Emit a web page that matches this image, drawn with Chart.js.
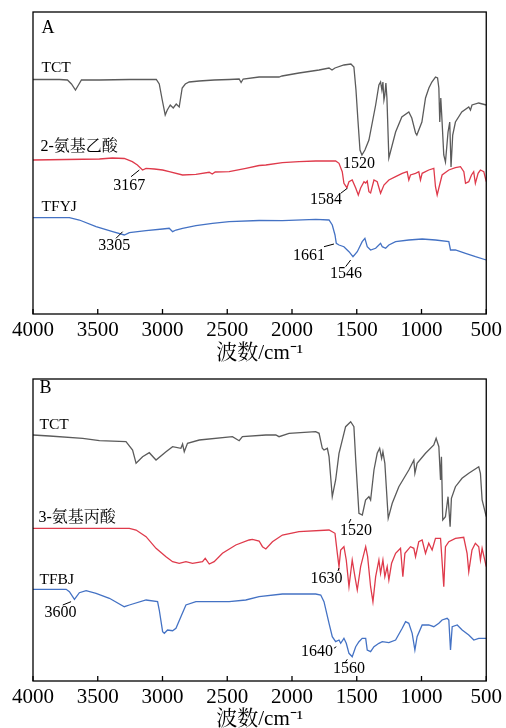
<!DOCTYPE html>
<html>
<head>
<meta charset="utf-8">
<script src="https://cdn.jsdelivr.net/npm/chart.js@4.4.0/dist/chart.umd.min.js"></script>
<style>
  html, body { margin: 0; padding: 0; background: #fff; overflow: hidden; }
  .panel { position: absolute; left: 0; width: 506px; height: 364px; }
  #wrapA { top: 0; }
  #wrapB { top: 366px; }
</style>
</head>
<body>
<div class="panel" id="wrapA"><canvas id="chartA" width="506" height="364"></canvas></div>
<div class="panel" id="wrapB"><canvas id="chartB" width="506" height="364"></canvas></div>
<script>
// x-akse: bølgetal (cm-1), y: forskudt transmittans (vilkårlige enheder)
const xTicks = [4000, 3500, 3000, 2500, 2000, 1500, 1000, 500];

// panel A
const tctA_wn = [4000,3796,3734,3703,3672,3649,3626,3487,3256,3048,3025,3002,2979,2963,2940,2917,2894,2871,2848,2824,2794,2717,2601,2485,2408,2393,2377,2254,2100,2077,1946,1791,1714,1691,1668,1599,1545,1522,1506,1491,1475,1460,1437,1406,1354,1329,1316,1306,1298,1290,1283,1275,1267,1252,1200,1152,1098,1075,1046,1036,997,969,943,920,892,876,866,859,851,841,828,815,795,782,772,759,738,689,635,622,610,558,500];
const tctA_val = [234.5,234.5,234,230,224,229,234,234,234.5,234.5,230,214,199,204,209,206,210,207,226,230,232,233,234,234.5,235,231.5,235,237,237,238,241,244,246,244,246,249,250,247,224,194,164,159,164,174,209,229,232,224,232,214,219,231,216,156,182,197,202,196,181,179,192,216,226,232,237,236,226,192,216,192,159,152,182,192,147,179,192,202,207,204,209,211,209];

const glyA_wn = [4000,3487,3387,3295,3233,3194,3154,3127,3063,2999,2948,2845,2742,2639,2616,2593,2485,2356,2254,2202,2074,1946,1817,1663,1637,1612,1599,1576,1560,1535,1508,1488,1470,1444,1431,1419,1406,1393,1367,1342,1316,1290,1252,1200,1149,1111,1098,1085,1046,1021,1008,995,944,905,892,879,866,841,789,738,699,673,660,635,614,597,584,563,545,519,500];
const glyA_val = [154,155,156,155.5,152.3,149,144,145.7,145,144,142.3,139,139.7,141.7,140,142,142.3,145.7,148.5,149,151.3,152.3,153,153,150.7,142.3,130.7,126.3,132.3,134,126,119,126,132.3,131,133,122.3,121,134,132.3,120.7,129,134,137.3,140.7,142.3,134,139,140.7,142.3,134,140.7,144,145.7,127.3,119,126,139,144,146.3,147.3,142.3,130.7,132.3,139,142.3,130.7,140.7,144,142.3,132.3];

const tfyj_wn = [4000,3719,3642,3513,3385,3295,3256,3127,2999,2948,2922,2896,2845,2742,2614,2485,2254,2074,1817,1714,1689,1668,1658,1637,1599,1560,1529,1496,1458,1437,1419,1393,1354,1316,1303,1277,1252,1200,1098,995,892,789,776,738,660,583,500];
const tfyj_val = [96.3,96.3,94,87.3,82.3,79,81.3,83.3,85,85.7,82.3,84,85.7,88.3,90.7,92.3,93.5,93.3,94.7,94,89,79,70.7,69,67.3,62.3,57.3,62.3,72.3,75.7,67.3,64,65.7,70.7,67.3,65.7,69,72.3,74,75,74,72.3,64,64,60.7,57.3,54];

// panel B
const tctB_wn = [4000,3873,3616,3487,3282,3231,3204,3154,3102,3050,2973,2922,2858,2845,2832,2807,2716,2460,2408,2383,2202,2125,2100,2023,1817,1791,1766,1753,1727,1714,1689,1663,1637,1586,1547,1522,1508,1483,1457,1432,1406,1393,1367,1342,1323,1308,1298,1283,1257,1226,1175,1098,1059,1051,1034,969,905,887,866,853,846,836,815,795,779,769,738,687,635,558,545,532,500];
const tctB_val = [246,245,242.7,240.3,239.3,231,217.7,224.3,228.3,221,229.3,234.3,232.7,237,229.3,237.7,241,244.3,240.3,244.3,246,246,244.3,247.7,249.3,247.7,232.7,231,232.7,224.3,184.3,201,227.7,254.3,259.3,254.3,221,167.7,166,181,184.3,181,211,227.7,232.7,222.7,229.3,217.7,162.7,177.7,194.3,211,221,207.7,217.7,227.7,236,242.7,234.3,201,224.3,161,164.3,184.3,154.3,182.7,194.3,202.7,207.7,214.3,207.7,181,164.3];

const alaB_wn = [4000,3256,3204,3127,3050,2973,2922,2871,2819,2768,2691,2670,2639,2601,2537,2434,2331,2306,2254,2228,2202,2151,2074,1946,1714,1668,1650,1637,1624,1599,1581,1560,1535,1514,1496,1470,1431,1416,1393,1375,1354,1329,1316,1298,1283,1265,1252,1231,1200,1162,1144,1128,1085,1059,1046,1021,995,969,944,918,892,853,828,815,789,738,674,648,635,610,584,558,545,532,500];
const alaB_val = [152.7,152.7,151,144.3,132.7,124.3,119.3,117.7,119.3,117.7,119.3,122.7,117,119.3,127.7,136,141,141.7,140,134.3,132,139.3,146,149.3,151,147.7,127.7,114.3,131,134.3,121,94.3,121,104.3,91,114.3,134.3,124.3,94.3,79.3,104.3,121,107.7,121,104.3,114.3,101,117.7,127.7,132.7,104.3,127.7,134.3,132.7,124.3,139.3,141,127.7,137.7,131,142.7,142.7,94.3,134.3,139.3,142.7,143.7,127.7,109.3,131,137.7,134.3,121,132.7,114.3];

const tfbj_wn = [4000,3744,3719,3680,3642,3590,3513,3410,3295,3256,3127,3038,3025,2999,2986,2961,2922,2896,2858,2819,2742,2485,2357,2254,2074,1817,1778,1753,1714,1689,1663,1637,1624,1599,1581,1560,1535,1508,1483,1458,1431,1419,1393,1367,1329,1303,1252,1200,1149,1123,1098,1072,1051,1034,995,944,905,866,841,802,789,776,763,724,686,635,596,558,500];
const tfbj_val = [91.7,91.7,89.3,81.7,88.3,90.3,87.7,82.7,74.3,76,81,79.3,71,49.3,47.7,51,50.3,52.7,64.3,76,79.3,79.3,81,84.3,87,87,86,79.3,57.7,44.3,39.3,41,37.7,42.7,37.7,27.7,24.3,34.3,39.3,42.7,42.7,31,29.3,34.3,37.7,39.3,38.3,41,52.7,59.3,57.7,47.7,31,44.3,56,56,54.3,57.7,61,62.7,61,31,54.3,56,51,46,41,42.7,42.7];

const GRAY = '#5b5b5b', RED = '#df3a4b', BLUE = '#4472c4';
const SERIF = '"Liberation Serif", "Times New Roman", "Noto Serif CJK SC", "Noto Sans CJK SC", serif';

// tekster og små streger ved toppene (bølgetal, y-værdi)
const notesA = [
  { text: 'A', x: 3934, y: 286, size: 18, align: 'left' },
  { text: 'TCT', x: 3934, y: 246, size: 15.5, align: 'left' },
  { text: '2-氨基乙酸', x: 3942, y: 167, size: 16, align: 'left' },
  { text: 'TFYJ', x: 3934, y: 107, size: 15.5, align: 'left' },
  { text: '3167', x: 3256, y: 128, size: 16, line: [3243, 137.3, 3179, 144] },
  { text: '1520', x: 1483, y: 150, size: 16 },
  { text: '1584', x: 1737, y: 114, size: 16, line: [1624, 120.7, 1573, 125.7] },
  { text: '3305', x: 3372, y: 68, size: 16, line: [3359, 75.7, 3308, 82.3] },
  { text: '1661', x: 1868, y: 58, size: 16, line: [1753, 67.3, 1676, 70] },
  { text: '1546', x: 1583, y: 40, size: 16, line: [1586, 47.3, 1547, 54] }
];
const notesB = [
  { text: 'B', x: 3950, y: 293, size: 18, align: 'left' },
  { text: 'TCT', x: 3950, y: 256, size: 15.5, align: 'left' },
  { text: '3-氨基丙酸', x: 3958, y: 163, size: 16, align: 'left' },
  { text: 'TFBJ', x: 3950, y: 101, size: 15.5, align: 'left' },
  { text: '1520', x: 1506, y: 150, size: 16, line: [1560, 158, 1545, 162] },
  { text: '1630', x: 1734, y: 102, size: 16, line: [1645, 110, 1637, 113] },
  { text: '3600', x: 3788, y: 68, size: 16, line: [3770, 76, 3706, 79.3] },
  { text: '1640', x: 1807, y: 29, size: 16, line: [1676, 32.7, 1658, 34.3] },
  { text: '1560', x: 1560, y: 12, size: 16, line: [1586, 19.3, 1573, 21.7] }
];

// ramme, indadvendte tick-streger og tekster
const notesPlugin = {
  id: 'notes',
  afterDraw(chart, args, opts) {
    const { ctx, chartArea: a, scales: { x, y } } = chart;
    ctx.save();
    ctx.strokeStyle = '#000';
    ctx.lineWidth = 1.3;
    ctx.strokeRect(a.left, a.top, a.right - a.left, a.bottom - a.top);
    x.ticks.forEach(t => {
      const px = x.getPixelForValue(t.value);
      ctx.beginPath();
      ctx.moveTo(px, a.bottom);
      ctx.lineTo(px, a.bottom - 5);
      ctx.stroke();
    });
    ctx.fillStyle = '#000';
    ctx.textBaseline = 'middle';
    ctx.lineWidth = 1;
    (opts.items || []).forEach(n => {
      ctx.font = n.size + 'px ' + SERIF;
      ctx.textAlign = n.align || 'center';
      ctx.fillText(n.text, x.getPixelForValue(n.x), y.getPixelForValue(n.y));
      if (n.line) {
        ctx.beginPath();
        ctx.moveTo(x.getPixelForValue(n.line[0]), y.getPixelForValue(n.line[1]));
        ctx.lineTo(x.getPixelForValue(n.line[2]), y.getPixelForValue(n.line[3]));
        ctx.stroke();
      }
    });
    ctx.restore();
  }
};

const zip = (wn, val) => wn.map((w, i) => ({ x: w, y: val[i] }));

function makeChart(canvasId, series, notes, padTop, axisHeight) {
  return new Chart(document.getElementById(canvasId), {
    type: 'line',
    data: {
      datasets: series.map(s => ({
        data: zip(s.wn, s.val),
        borderColor: s.color,
        borderWidth: 1.3,
        pointRadius: 0,
        tension: 0,
        fill: false
      }))
    },
    options: {
      responsive: false,
      animation: false,
      devicePixelRatio: 1,
      layout: { padding: { left: 33, right: 18, top: padTop, bottom: 0 } },
      plugins: { legend: { display: false }, tooltip: { enabled: false }, notes: { items: notes } },
      scales: {
        x: {
          type: 'linear',
          min: 500,
          max: 4000,
          reverse: true,
          afterFit: scale => { scale.height = axisHeight; },
          afterBuildTicks: scale => { scale.ticks = xTicks.map(v => ({ value: v })); },
          grid: { display: false, drawTicks: false },
          border: { display: false },
          ticks: {
            color: '#000',
            padding: 4,
            maxRotation: 0,
            autoSkip: false,
            callback: v => String(v),
            font: { family: SERIF, size: 21 }
          },
          title: {
            display: true,
            text: '波数/cm⁻¹',
            color: '#000',
            padding: { top: 0, bottom: 0 },
            font: { family: SERIF, size: 21, lineHeight: 1 }
          }
        },
        y: { display: false, min: 0, max: 302 }
      }
    },
    plugins: [notesPlugin]
  });
}

makeChart('chartA', [
  { wn: tctA_wn, val: tctA_val, color: GRAY },
  { wn: glyA_wn, val: glyA_val, color: RED },
  { wn: tfyj_wn, val: tfyj_val, color: BLUE }
], notesA, 12, 50);

makeChart('chartB', [
  { wn: tctB_wn, val: tctB_val, color: GRAY },
  { wn: alaB_wn, val: alaB_val, color: RED },
  { wn: tfbj_wn, val: tfbj_val, color: BLUE }
], notesB, 13, 49);
</script>
</body>
</html>
